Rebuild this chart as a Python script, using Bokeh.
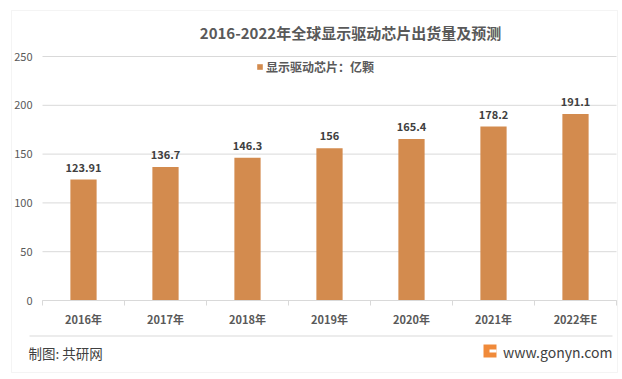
from bokeh.plotting import figure
from bokeh.models import (ColumnDataSource, Range1d, FixedTicker, Label,
                          BoxAnnotation, Legend, LegendItem)
from bokeh.embed import file_html
from bokeh.resources import INLINE
from bokeh.core.properties import value

# ---- data ----
years = ["2016年", "2017年", "2018年", "2019年", "2020年", "2021年", "2022年E"]
shipments = [123.91, 136.7, 146.3, 156, 165.4, 178.2, 191.1]
value_labels = ["123.91", "136.7", "146.3", "156", "165.4", "178.2", "191.1"]
y_ticks = [0, 50, 100, 150, 200, 250]
series_name = "显示驱动芯片：亿颗"
title_text = "2016-2022年全球显示驱动芯片出货量及预测"
source_text = "制图: 共研网"
site_text = "www.gonyn.com"

FONT = "Noto Sans CJK SC"
BAR = "#D38B4E"
GRID = "#D9D9D9"
TXT = "#595959"
DARK = "#404040"

# ---- layout (pixels on the canvas) ----
W, H = 620, 377
PLOT_L, PLOT_R = 42, 616      # x pixels of category span
PLOT_T, PLOT_B = 56, 300      # y pixels of y_max and 0
n = len(years)
y_max = y_ticks[-1]
ppx = (PLOT_R - PLOT_L) / n
ppy = (PLOT_B - PLOT_T) / y_max
x_range = Range1d(-PLOT_L / ppx, n + (W - PLOT_R) / ppx)
y_range = Range1d(-(H - PLOT_B) / ppy, y_max + PLOT_T / ppy)

def sy(img_y):  # image y (from top) -> screen y (from bottom)
    return H - img_y

xs = [i + 0.5 for i in range(n)]
src = ColumnDataSource(dict(x=xs, top=shipments, label=value_labels))

p = figure(width=W, height=H, x_range=x_range, y_range=y_range,
           output_backend="svg", toolbar_location=None,
           min_border=0, min_border_left=0, min_border_right=0,
           min_border_top=0, min_border_bottom=0)
p.title.visible = False
p.outline_line_color = None
p.xgrid.grid_line_color = None
p.ygrid.grid_line_color = None

# grid lines across the category span
p.segment(x0=[0] * len(y_ticks), x1=[n] * len(y_ticks), y0=y_ticks, y1=y_ticks,
          line_color=GRID, line_width=1)

# y axis
p.yaxis.fixed_location = 0
p.yaxis.ticker = FixedTicker(ticks=y_ticks)
p.yaxis.axis_line_color = None
p.yaxis.major_tick_line_color = None
p.yaxis.minor_tick_line_color = None
p.yaxis.major_label_standoff = 4
p.yaxis.major_label_text_font = FONT
p.yaxis.major_label_text_font_size = "11px"
p.yaxis.major_label_text_color = TXT

# x axis
p.xaxis.fixed_location = 0
p.xaxis.bounds = (0, n)
p.xaxis.ticker = FixedTicker(ticks=xs, minor_ticks=list(range(n + 1)))
p.xaxis.major_label_overrides = {x: y for x, y in zip(xs, years)}
p.xaxis.axis_line_color = GRID
p.xaxis.major_tick_line_color = None
p.xaxis.minor_tick_line_color = GRID
p.xaxis.minor_tick_in = 0
p.xaxis.minor_tick_out = 5
p.xaxis.major_label_standoff = 4
p.xaxis.major_label_text_font = FONT
p.xaxis.major_label_text_font_size = "11px"
p.xaxis.major_label_text_font_style = "bold"
p.xaxis.major_label_text_color = TXT

bars = p.vbar(x="x", top="top", width=0.32, source=src,
              fill_color=BAR, line_color=None)
p.text(x="x", y="top", text="label", source=src, text_align="center",
       text_baseline="bottom", y_offset=-8, text_font=value(FONT),
       text_font_style="bold", text_font_size="11px", text_color=DARK)

legend = Legend(items=[LegendItem(label=series_name, renderers=[bars])],
                location=(256, 302), orientation="horizontal",
                glyph_width=7, glyph_height=7, label_standoff=3,
                label_height=14, padding=0, margin=0,
                border_line_color=None, background_fill_alpha=0,
                label_text_font=FONT, label_text_font_size="12px",
                label_text_font_style="bold", label_text_color=TXT)
p.add_layout(legend)

def box(l, r, t, b, **kw):
    return BoxAnnotation(left=l, right=r, top=sy(t), bottom=sy(b),
                         left_units="screen", right_units="screen",
                         top_units="screen", bottom_units="screen", **kw)

# title
p.add_layout(Label(x=350, y=sy(32), x_units="screen", y_units="screen",
                   text=title_text, text_align="center",
                   text_baseline="middle", text_font=FONT,
                   text_font_size="15px", text_font_style="bold",
                   text_color=TXT))

# outer border
p.add_layout(box(11, 617, 10, 372, fill_alpha=0, line_color=GRID, line_width=1))
# footer separator
p.add_layout(box(29, 612, 335, 336, fill_color=GRID, fill_alpha=1, line_color=None))
# footer texts
p.add_layout(Label(x=28, y=sy(352), x_units="screen", y_units="screen",
                   text=source_text, text_align="left",
                   text_baseline="middle", text_font=FONT,
                   text_font_size="13.5px", text_color=DARK))
p.add_layout(Label(x=612, y=sy(351), x_units="screen", y_units="screen",
                   text=site_text, text_align="right",
                   text_baseline="middle", text_font=FONT,
                   text_font_size="14px", text_color=DARK))
# logo
p.add_layout(box(483, 496, 344, 357, fill_color="#F08A3A", fill_alpha=1, line_color=None))
p.add_layout(box(489, 496, 349, 352, fill_color="white", fill_alpha=1, line_color=None))

open("out.html", "w").write(file_html(p, INLINE))
